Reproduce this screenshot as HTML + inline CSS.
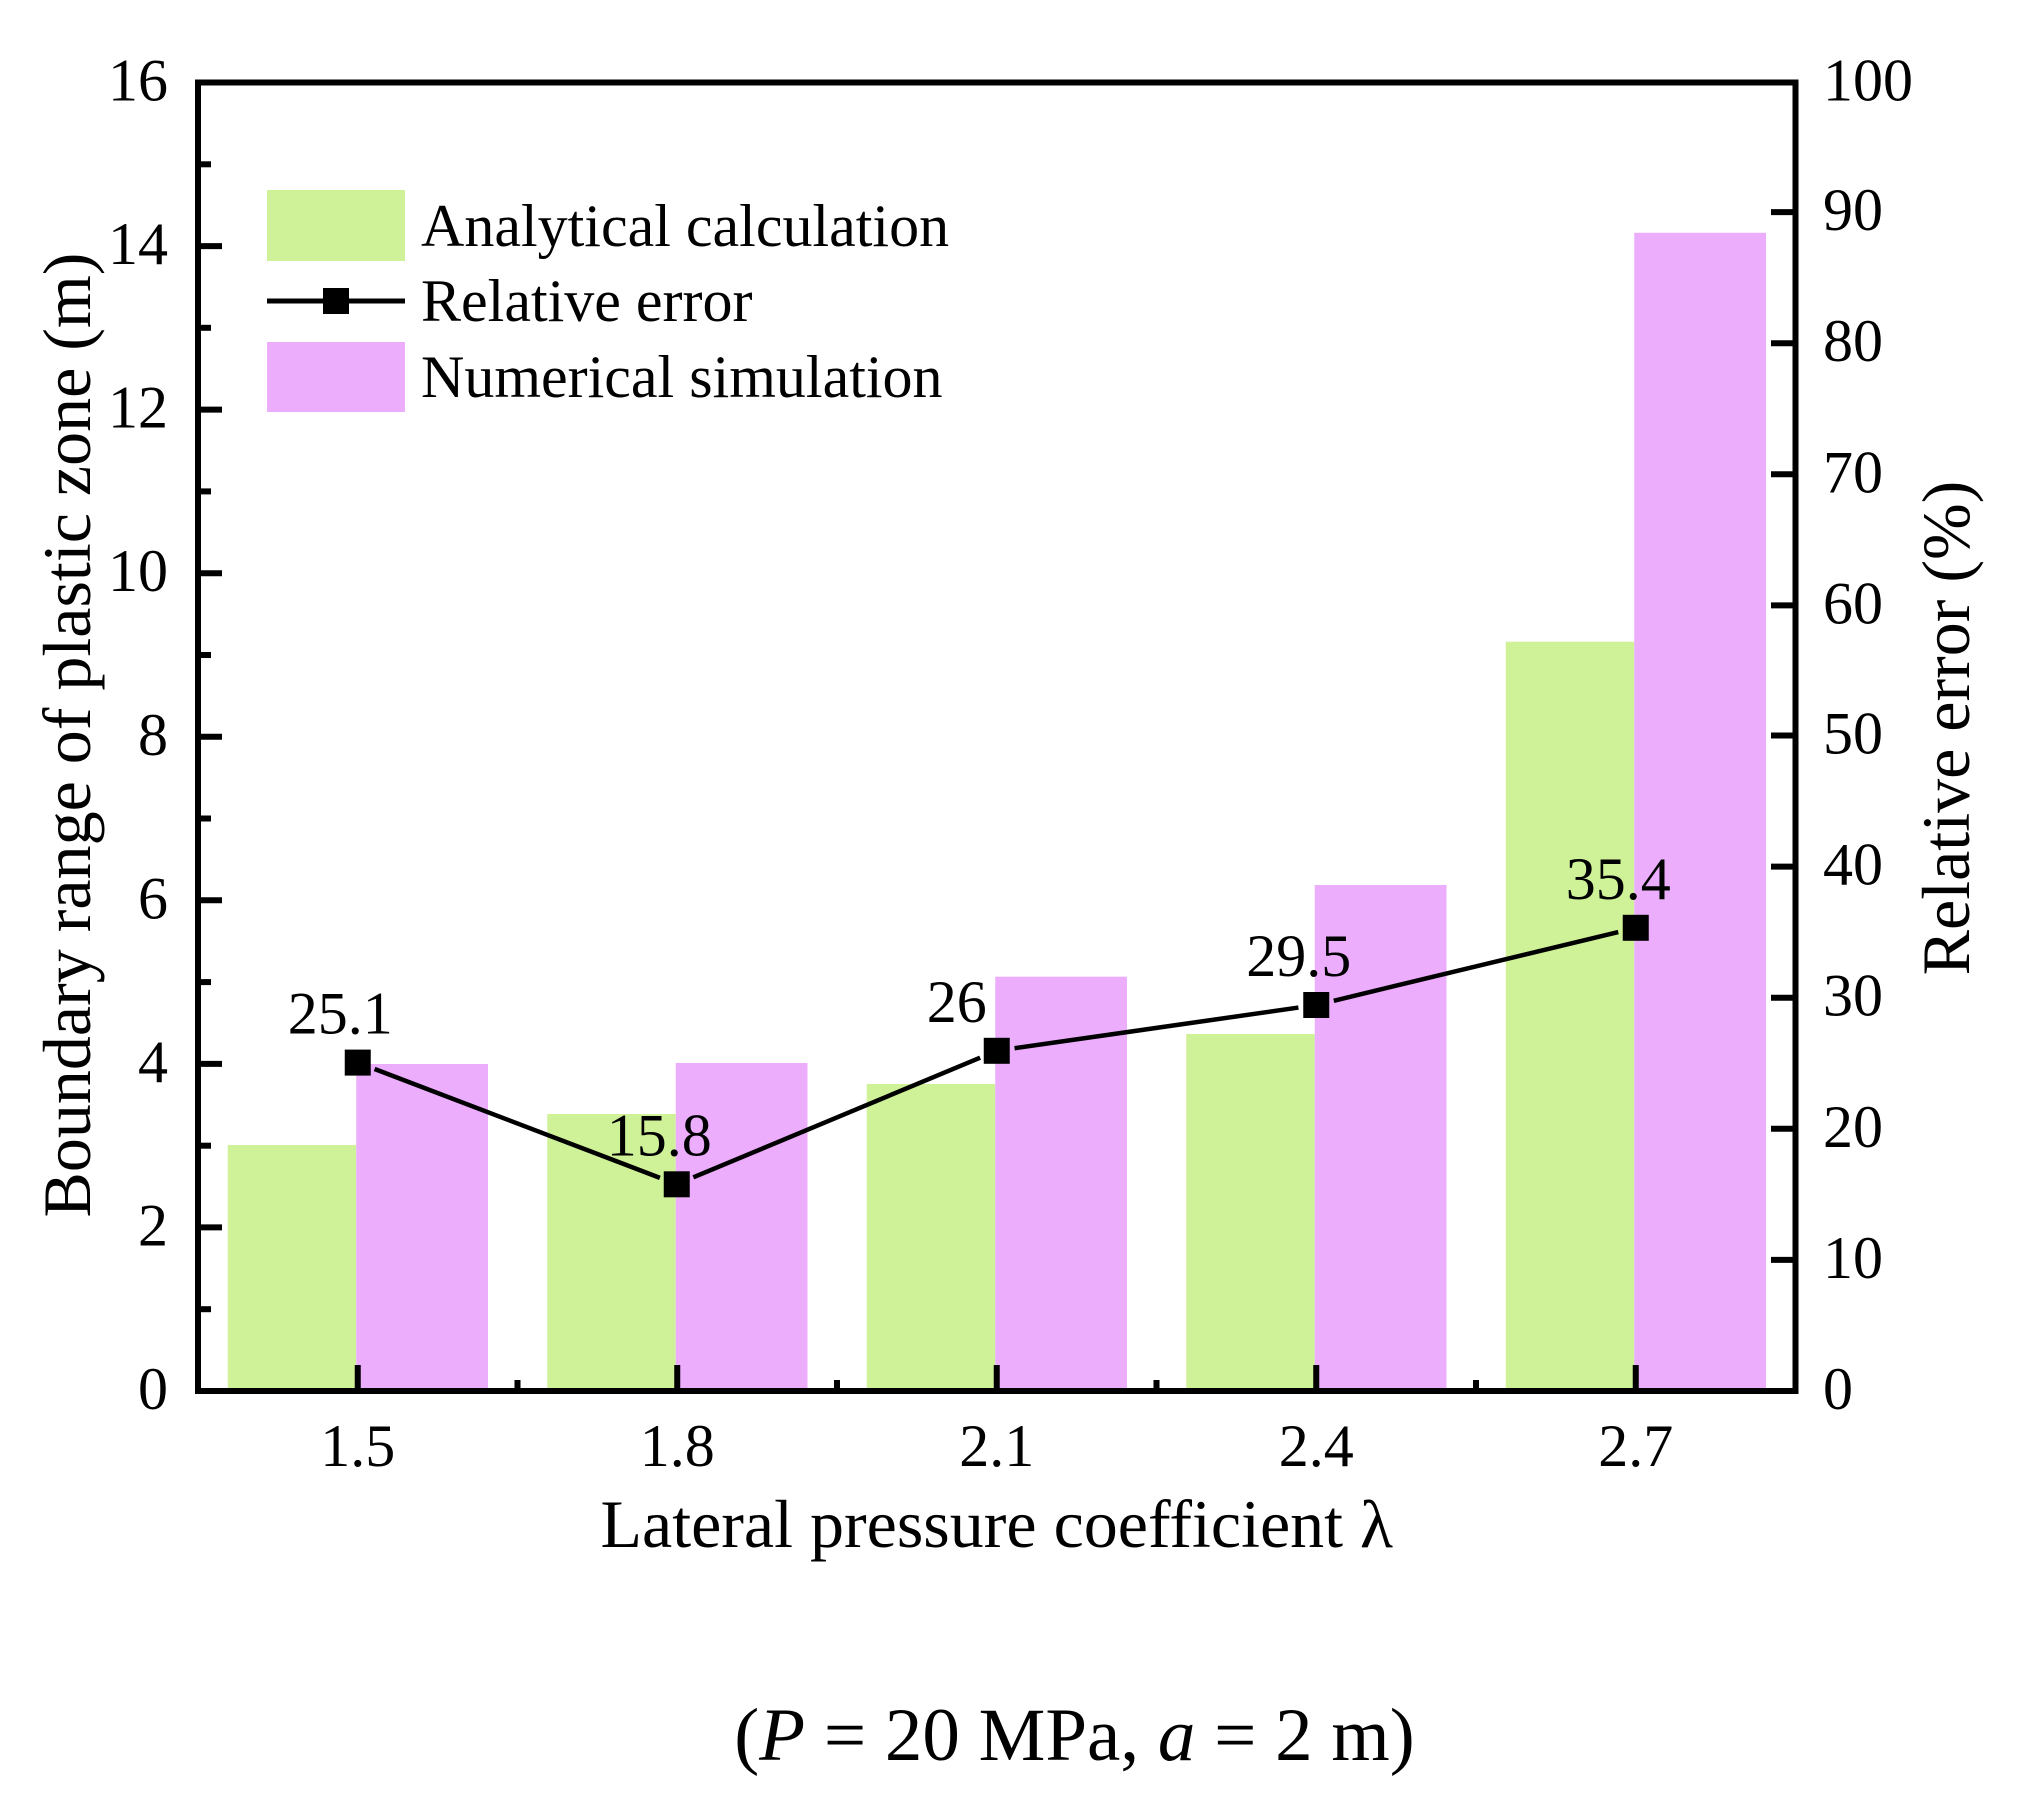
<!DOCTYPE html>
<html>
<head>
<meta charset="utf-8">
<style>
html,body{margin:0;padding:0;background:#fff;}
svg{display:block;}
text{font-family:"Liberation Serif","Times New Roman",serif;fill:#000;}
</style>
</head>
<body>
<svg width="2017" height="1805" viewBox="0 0 2017 1805" xmlns="http://www.w3.org/2000/svg">
<rect x="0" y="0" width="2017" height="1805" fill="#fff"/>
<!-- bars -->
<g>
<rect x="227.75" y="1145" width="128.5" height="246" fill="#CFF198"/>
<rect x="356.25" y="1064" width="131.75" height="327" fill="#ECADFC"/>
<rect x="547.25" y="1114" width="128.5" height="277" fill="#CFF198"/>
<rect x="675.75" y="1063" width="131.75" height="328" fill="#ECADFC"/>
<rect x="866.75" y="1084" width="128.5" height="307" fill="#CFF198"/>
<rect x="995.25" y="976.7" width="131.75" height="414.3" fill="#ECADFC"/>
<rect x="1186.25" y="1034" width="128.5" height="357" fill="#CFF198"/>
<rect x="1314.75" y="885" width="131.75" height="506" fill="#ECADFC"/>
<rect x="1505.75" y="641.7" width="128.5" height="749.3" fill="#CFF198"/>
<rect x="1634.25" y="232.8" width="131.75" height="1158.2" fill="#ECADFC"/>
</g>
<!-- axes frame -->
<rect x="198" y="82.5" width="1597.5" height="1308.5" fill="none" stroke="#000" stroke-width="6"/>
<!-- left ticks -->
<g stroke="#000" stroke-width="6">
<line x1="198" y1="1391" x2="222" y2="1391"/>
<line x1="198" y1="1227.4" x2="222" y2="1227.4"/>
<line x1="198" y1="1063.9" x2="222" y2="1063.9"/>
<line x1="198" y1="900.3" x2="222" y2="900.3"/>
<line x1="198" y1="736.75" x2="222" y2="736.75"/>
<line x1="198" y1="573.2" x2="222" y2="573.2"/>
<line x1="198" y1="409.6" x2="222" y2="409.6"/>
<line x1="198" y1="246.1" x2="222" y2="246.1"/>
<line x1="198" y1="1309.2" x2="211" y2="1309.2"/>
<line x1="198" y1="1145.7" x2="211" y2="1145.7"/>
<line x1="198" y1="982.1" x2="211" y2="982.1"/>
<line x1="198" y1="818.5" x2="211" y2="818.5"/>
<line x1="198" y1="655.0" x2="211" y2="655.0"/>
<line x1="198" y1="491.4" x2="211" y2="491.4"/>
<line x1="198" y1="327.8" x2="211" y2="327.8"/>
<line x1="198" y1="164.3" x2="211" y2="164.3"/>
<!-- right ticks -->
<line x1="1771" y1="1259.9" x2="1795.5" y2="1259.9"/>
<line x1="1771" y1="1128.8" x2="1795.5" y2="1128.8"/>
<line x1="1771" y1="997.7" x2="1795.5" y2="997.7"/>
<line x1="1771" y1="866.6" x2="1795.5" y2="866.6"/>
<line x1="1771" y1="735.5" x2="1795.5" y2="735.5"/>
<line x1="1771" y1="605.4" x2="1795.5" y2="605.4"/>
<line x1="1771" y1="474.3" x2="1795.5" y2="474.3"/>
<line x1="1771" y1="343.2" x2="1795.5" y2="343.2"/>
<line x1="1771" y1="212.1" x2="1795.5" y2="212.1"/>
<!-- bottom ticks -->
<line x1="357.75" y1="1365" x2="357.75" y2="1391"/>
<line x1="677.25" y1="1365" x2="677.25" y2="1391"/>
<line x1="996.75" y1="1365" x2="996.75" y2="1391"/>
<line x1="1316.25" y1="1365" x2="1316.25" y2="1391"/>
<line x1="1635.75" y1="1365" x2="1635.75" y2="1391"/>
<line x1="517.5" y1="1380" x2="517.5" y2="1391"/>
<line x1="837" y1="1380" x2="837" y2="1391"/>
<line x1="1156.5" y1="1380" x2="1156.5" y2="1391"/>
<line x1="1476" y1="1380" x2="1476" y2="1391"/>
</g>
<!-- relative error line -->
<g stroke="#000" stroke-width="4.5" stroke-linecap="butt">
<line x1="374.57" y1="1068.99" x2="659.93" y2="1177.84"/>
<line x1="693.36" y1="1177.33" x2="980.14" y2="1057.72"/>
<line x1="1014.57" y1="1048.24" x2="1298.43" y2="1007.54"/>
<line x1="1333.75" y1="1000.76" x2="1618.25" y2="932.02"/>
</g>
<g fill="#000">
<rect x="344.75" y="1049.6" width="26" height="26"/>
<rect x="663.75" y="1171.3" width="26" height="26"/>
<rect x="983.75" y="1037.8" width="26" height="26"/>
<rect x="1303.25" y="992" width="26" height="26"/>
<rect x="1622.75" y="914.8" width="26" height="26"/>
</g>
<!-- data labels -->
<g font-size="60">
<text x="287.75" y="1033.6">25.1</text>
<text x="606.75" y="1155.3">15.8</text>
<text x="926.75" y="1021.8">26</text>
<text x="1246.25" y="976">29.5</text>
<text x="1565.75" y="898.8">35.4</text>
</g>
<!-- left tick labels -->
<g font-size="60" text-anchor="end">
<text x="168" y="1409">0</text>
<text x="168" y="1245.4">2</text>
<text x="168" y="1081.9">4</text>
<text x="168" y="918.3">6</text>
<text x="168" y="754.75">8</text>
<text x="168" y="591.2">10</text>
<text x="168" y="427.6">12</text>
<text x="168" y="264.1">14</text>
<text x="168" y="100.5">16</text>
</g>
<!-- right tick labels -->
<g font-size="60" text-anchor="start">
<text x="1823" y="1409">0</text>
<text x="1823" y="1277.9">10</text>
<text x="1823" y="1146.8">20</text>
<text x="1823" y="1015.7">30</text>
<text x="1823" y="884.6">40</text>
<text x="1823" y="753.5">50</text>
<text x="1823" y="623.4">60</text>
<text x="1823" y="492.3">70</text>
<text x="1823" y="361.2">80</text>
<text x="1823" y="230.1">90</text>
<text x="1823" y="100.5">100</text>
</g>
<!-- bottom tick labels -->
<g font-size="60" text-anchor="middle">
<text x="357.75" y="1466">1.5</text>
<text x="677.25" y="1466">1.8</text>
<text x="996.75" y="1466">2.1</text>
<text x="1316.25" y="1466">2.4</text>
<text x="1635.75" y="1466">2.7</text>
</g>
<!-- axis titles -->
<text x="996.75" y="1547" font-size="68" text-anchor="middle">Lateral pressure coefficient λ</text>
<text transform="translate(90,735) rotate(-90)" font-size="68" text-anchor="middle">Boundary range of plastic zone (m)</text>
<text transform="translate(1969,728) rotate(-90)" font-size="68" text-anchor="middle">Relative error (%)</text>
<!-- legend -->
<rect x="267" y="190" width="138" height="71" fill="#CFF198"/>
<line x1="267" y1="301" x2="405" y2="301" stroke="#000" stroke-width="5"/>
<rect x="323" y="288" width="26" height="26" fill="#000"/>
<rect x="267" y="342" width="138" height="70" fill="#ECADFC"/>
<g font-size="60">
<text x="421" y="246">Analytical calculation</text>
<text x="421" y="321">Relative error</text>
<text x="421" y="397">Numerical simulation</text>
</g>
<!-- note -->
<text x="1074.5" y="1760" font-size="75" text-anchor="middle">(<tspan font-style="italic">P</tspan> = 20 MPa, <tspan font-style="italic">a</tspan> = 2 m)</text>
</svg>
</body>
</html>
